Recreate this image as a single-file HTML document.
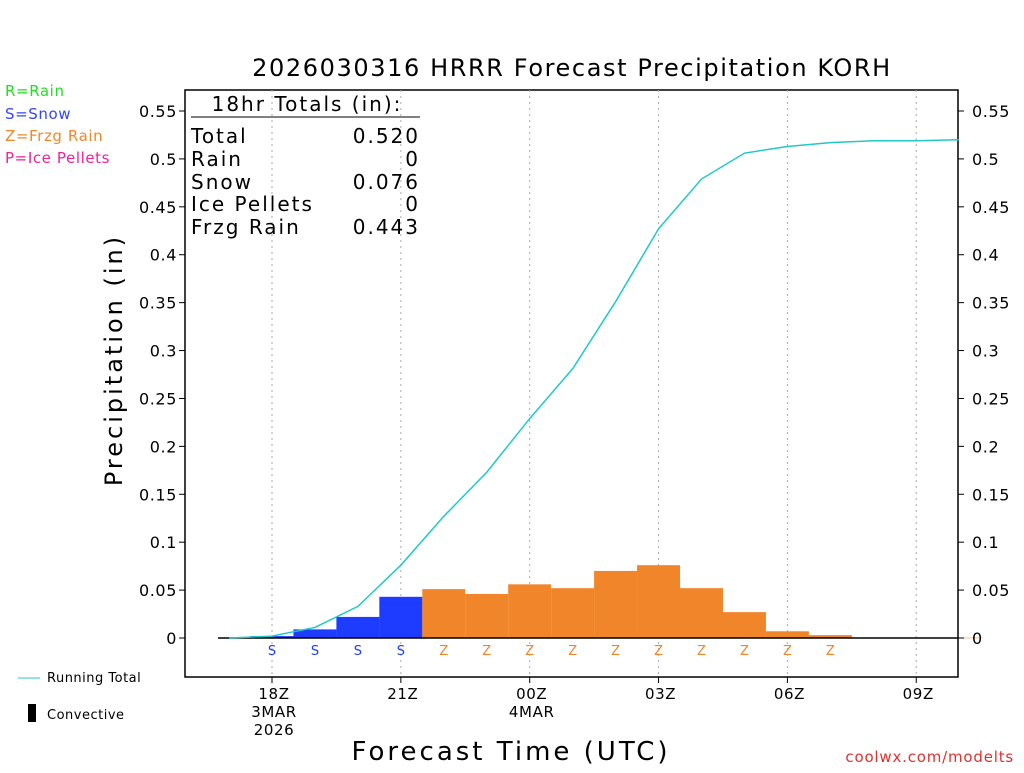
<!DOCTYPE html>
<html><head><meta charset="utf-8"><style>
body{margin:0;background:#fff;}
svg text{font-family:"DejaVu Sans","Liberation Sans",sans-serif;}
</style></head><body>
<svg id="chart" width="1024" height="768" xmlns="http://www.w3.org/2000/svg">
<text x="572" y="76" font-size="24" letter-spacing="1.6" text-anchor="middle" fill="#000">2026030316 HRRR Forecast Precipitation KORH</text>
<g font-size="15" letter-spacing="0.6">
<text x="5" y="96" fill="#22dd22">R=Rain</text>
<text x="5" y="119" fill="#3344ff">S=Snow</text>
<text x="5" y="141" fill="#f0882a">Z=Frzg Rain</text>
<text x="5" y="163" fill="#ee2299">P=Ice Pellets</text>
</g>
<rect x="185" y="90" width="773" height="587" fill="none" stroke="#000" stroke-width="1.5"/>
<g id="grid"></g><g id="bars"></g><g id="line"></g><g id="axes"></g>
<text transform="translate(122,360) rotate(-90)" font-size="24" letter-spacing="3" text-anchor="middle">Precipitation (in)</text>
<text x="511" y="760" font-size="26" letter-spacing="3" text-anchor="middle">Forecast Time (UTC)</text>
<text x="1014" y="762" font-size="15" letter-spacing="0.8" text-anchor="end" fill="#e03030">coolwx.com/modelts</text>
<g font-size="20" letter-spacing="2" fill="#000">
<text x="307" y="111" text-anchor="middle">18hr Totals (in):</text>
<line x1="191" y1="117" x2="420" y2="117" stroke="#000"/>
<text x="191" y="143">Total</text><text x="420" y="143" text-anchor="end">0.520</text>
<text x="191" y="166">Rain</text><text x="420" y="166" text-anchor="end">0</text>
<text x="191" y="189">Snow</text><text x="420" y="189" text-anchor="end">0.076</text>
<text x="191" y="211">Ice Pellets</text><text x="420" y="211" text-anchor="end">0</text>
<text x="191" y="234">Frzg Rain</text><text x="420" y="234" text-anchor="end">0.443</text>
</g>
<g font-size="13" letter-spacing="0.5">
<line x1="18" y1="678" x2="40" y2="678" stroke="#22c8c8"/>
<text x="47" y="682">Running Total</text>
<rect x="28" y="704" width="8" height="18" fill="#000"/>
<text x="47" y="719">Convective</text>
</g>
</svg>
<script>
const hours=[18,19,20,21,22,23,24,25,26,27,28,29,30,31,32,33,34];
const hourly=[0.002,0.009,0.022,0.043,0.051,0.046,0.056,0.052,0.070,0.076,0.052,0.027,0.007,0.003,0.0005,0.0003,0.0003];
const ptype=["S","S","S","S","Z","Z","Z","Z","Z","Z","Z","Z","Z","Z","","",""];
const totalHours=[17,18,19,20,21,22,23,24,25,26,27,28,29,30,31,32,33,34];
const totals=[0,0.002,0.011,0.033,0.076,0.127,0.173,0.229,0.281,0.351,0.427,0.479,0.506,0.513,0.517,0.519,0.519,0.520];
const yTicks=[0,0.05,0.1,0.15,0.2,0.25,0.3,0.35,0.4,0.45,0.5,0.55];
const xTicks=[18,21,24,27,30,33];
const xLabels=[["18Z","3MAR","2026"],["21Z"],["00Z","4MAR"],["03Z"],["06Z"],["09Z"]];
const NS="http://www.w3.org/2000/svg";
const X=h=>272+(h-18)*42.95;
const Y=v=>638-v*(527/0.55);
function mk(tag,attrs,parent){const e=document.createElementNS(NS,tag);for(const k in attrs)e.setAttribute(k,attrs[k]);document.getElementById(parent).appendChild(e);return e;}
xTicks.forEach((h,i)=>{
 const g=mk('line',{x1:X(h),x2:X(h),y1:90,y2:677,stroke:'#aaa','stroke-dasharray':'2,4'},'grid');
 
 
 const t=mk('line',{x1:X(h),x2:X(h),y1:677,y2:683,stroke:'#000'},'axes');
 
 
 xLabels[i].forEach((s,j)=>{const tx=mk('text',{x:X(h)+2,y:699+j*18,'font-size':15,'letter-spacing':0.6,'text-anchor':'middle'},'axes');tx.textContent=s;
 
 });
});
yTicks.forEach(v=>{
 [[177,'end',179,185],[972,'start',958,964]].forEach(([tx0,anc,a,b])=>{
  const l=mk('line',{x1:a,x2:b,y1:Y(v),y2:Y(v),stroke:'#000'},'axes');
  
  
  const t=mk('text',{x:tx0,y:Y(v)+6,'font-size':16,'letter-spacing':0.6,'text-anchor':anc},'axes');t.textContent=String(v);
  
  
 });
});
hours.forEach((h,i)=>{
 const col=ptype[i]==="S"?"#1e3cff":"#f0852a";
 const y=Y(hourly[i]);
 const r=mk('rect',{x:X(h)-21.5,y:y,width:43,height:Math.max(0.5,638-y),fill:col},'bars');
 
 
 if(ptype[i]){const t=mk('text',{x:X(h),y:655,'font-size':13,'text-anchor':'middle',fill:col},'bars');t.textContent=ptype[i];
 
 }
});
const z=mk('line',{x1:218,x2:958,y1:638,y2:638,stroke:'#000','stroke-width':1.5},'bars');


const pts=totalHours.map((h,i)=>X(h)+','+Y(totals[i])).join(' ');
const pl=mk('polyline',{points:pts,fill:'none',stroke:'#22c8c8','stroke-width':1.5},'line');


</script>
</body></html>
